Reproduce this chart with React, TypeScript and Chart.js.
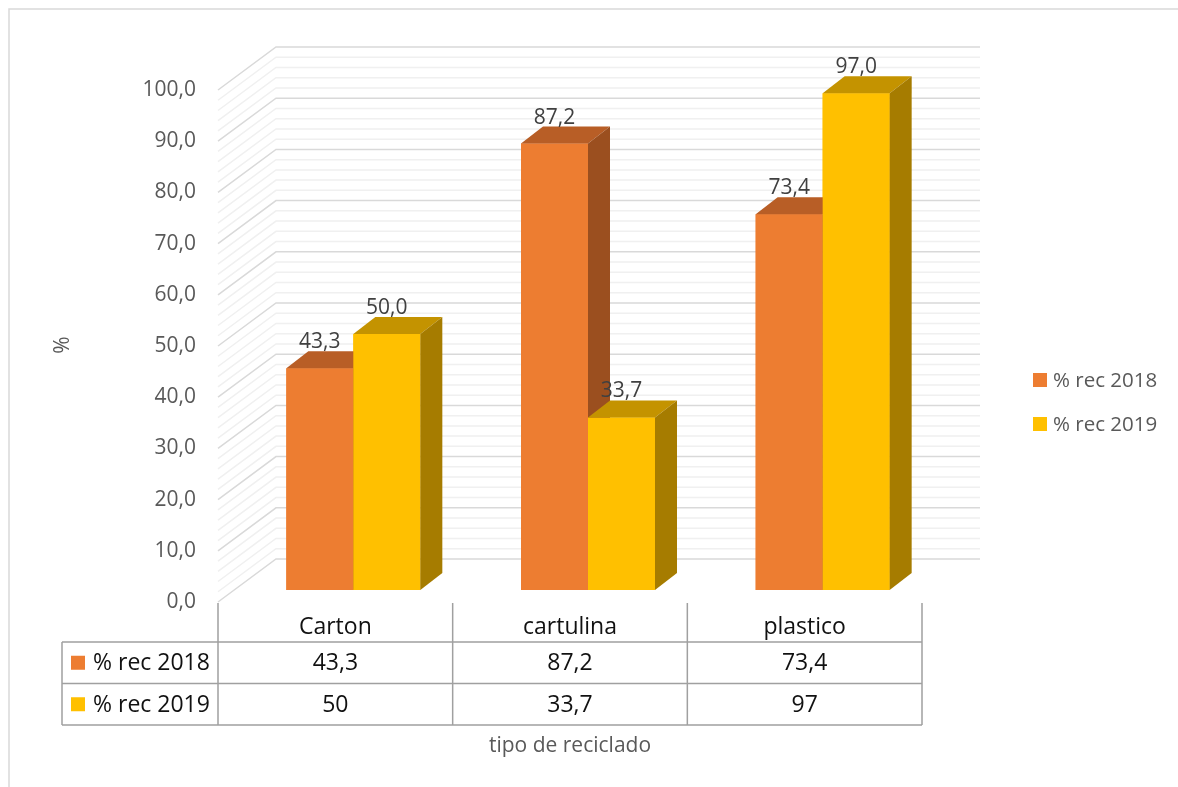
import React, { useEffect, useRef } from 'react';
import { Chart, registerables } from 'chart.js';

Chart.register(...registerables);

// ---- data ----
const categories = ['Carton', 'cartulina', 'plastico'];
const seriesLabels = ['% rec 2018', '% rec 2019'];
const rec2018 = [43.3, 87.2, 73.4];
const rec2019 = [50, 33.7, 97];
const yMin = 0;
const yMax = 100;
const yStep = 10;
const yMinorStep = 2;
const yTitle = '%';
const xTitle = 'tipo de reciclado';

// ---- look ----
const W = 1178;
const H = 787;
const FONT = '"Open Sans", "Noto Sans", sans-serif';
const frontColors = ['#ED7D31', '#FFC000'];
const topColors = ['#B85E26', '#C49300'];
const sideColors = ['#9B4F1F', '#A67C00'];
const GREY_TEXT = '#595959';

// oblique projection: offsets relative to the plane the bars stand in
const FRONT = { dx: -18, dy: 12 };
const BACK = { dx: 40, dy: -31 };
const DEPTH = { dx: 22, dy: -17 };

const fmt1 = (v: number) => v.toFixed(1).replace('.', ',');
const fmtGeneral = (v: number) => String(v).replace('.', ',');

function poly(ctx: CanvasRenderingContext2D, pts: number[][], color: string) {
  ctx.beginPath();
  ctx.moveTo(pts[0][0], pts[0][1]);
  for (let k = 1; k < pts.length; k++) ctx.lineTo(pts[k][0], pts[k][1]);
  ctx.closePath();
  ctx.fillStyle = color;
  ctx.fill();
}

function text(
  ctx: CanvasRenderingContext2D,
  s: string,
  x: number,
  y: number,
  size: number,
  color: string,
  align: CanvasTextAlign = 'center',
  baseline: CanvasTextBaseline = 'middle'
) {
  ctx.font = `${size}px ${FONT}`;
  ctx.fillStyle = color;
  ctx.textAlign = align;
  ctx.textBaseline = baseline;
  ctx.fillText(s, x, y);
}

const bars3d = {
  id: 'bars3d',
  beforeDatasetsDraw(chart: any) {
    const { ctx, chartArea: a, scales } = chart;
    const y = scales.y;
    ctx.save();
    ctx.lineWidth = 1.5;
    for (const major of [false, true]) {
      ctx.strokeStyle = major ? '#D9D9D9' : '#F0F0F0';
      const count = Math.round((yMax - yMin) / yMinorStep);
      for (let k = 0; k <= count; k++) {
        const v = yMin + k * yMinorStep;
        const isMajor = Math.abs(v / yStep - Math.round(v / yStep)) < 1e-9;
        if (isMajor !== major) continue;
        const py = y.getPixelForValue(v);
        ctx.beginPath();
        ctx.moveTo(a.left + FRONT.dx, py + FRONT.dy);
        ctx.lineTo(a.left + BACK.dx, py + BACK.dy);
        ctx.lineTo(a.right + BACK.dx, py + BACK.dy);
        ctx.stroke();
      }
    }
    ctx.restore();
  },
  afterDatasetsDraw(chart: any) {
    const { ctx } = chart;
    const nSets = chart.data.datasets.length;
    ctx.save();
    for (let j = 0; j < categories.length; j++) {
      for (let i = 0; i < nSets; i++) {
        const el = chart.getDatasetMeta(i).data[j];
        const l = el.x - el.width / 2;
        const r = el.x + el.width / 2;
        const t = el.y;
        const b = el.base;
        ctx.fillStyle = frontColors[i];
        ctx.fillRect(l, t, r - l, b - t);
        poly(ctx, [[l, t], [l + DEPTH.dx, t + DEPTH.dy], [r + DEPTH.dx, t + DEPTH.dy], [r, t]], topColors[i]);
        poly(ctx, [[r, t], [r + DEPTH.dx, t + DEPTH.dy], [r + DEPTH.dx, b + DEPTH.dy], [r, b]], sideColors[i]);
      }
    }
    for (let i = 0; i < nSets; i++) {
      const meta = chart.getDatasetMeta(i);
      const values = chart.data.datasets[i].data as number[];
      meta.data.forEach((el: any, j: number) => {
        text(ctx, fmt1(values[j]), el.x, el.y + DEPTH.dy - 3, 21, '#404040', 'center', 'alphabetic');
      });
    }
    ctx.restore();
  },
  afterDraw(chart: any) {
    const { ctx, chartArea: a, scales } = chart;
    const x = scales.x;
    const y = scales.y;
    const series = [rec2018, rec2019];
    ctx.save();

    // outer frame
    ctx.strokeStyle = '#D9D9D9';
    ctx.lineWidth = 1.5;
    ctx.strokeRect(9, 9, W + 20, H + 20);

    // data table under the plot
    const zeroY = y.getPixelForValue(0) + FRONT.dy;
    const half = (x.getPixelForValue(1) - x.getPixelForValue(0)) / 2;
    const bounds = [a.left + FRONT.dx];
    categories.forEach((_, j) => bounds.push(x.getPixelForValue(j) + half + FRONT.dx));
    const rowTop = 642;
    const rowH = 41.5;
    const tableLeft = 62;
    ctx.strokeStyle = '#A0A0A0';
    ctx.lineWidth = 1.5;
    ctx.beginPath();
    bounds.forEach((bx) => {
      ctx.moveTo(bx, zeroY + 1);
      ctx.lineTo(bx, rowTop + rowH * 2);
    });
    ctx.moveTo(tableLeft, rowTop);
    ctx.lineTo(tableLeft, rowTop + rowH * 2);
    for (let r = 0; r <= 2; r++) {
      ctx.moveTo(tableLeft, rowTop + rowH * r);
      ctx.lineTo(bounds[bounds.length - 1], rowTop + rowH * r);
    }
    ctx.stroke();

    categories.forEach((c, j) => {
      const cx = (bounds[j] + bounds[j + 1]) / 2;
      text(ctx, c, cx, (zeroY + rowTop) / 2 + 5, 23, '#111111');
      series.forEach((vals, i) => {
        text(ctx, fmtGeneral(vals[j]), cx, rowTop + rowH * (i + 0.5) + 1, 23, '#111111');
      });
    });
    seriesLabels.forEach((s, i) => {
      const cy = rowTop + rowH * (i + 0.5);
      ctx.fillStyle = frontColors[i];
      ctx.fillRect(71, cy - 7, 14, 14);
      text(ctx, s, 93, cy + 1, 23, '#111111', 'left');
    });

    // axis titles
    text(ctx, xTitle, (bounds[0] + bounds[bounds.length - 1]) / 2, 746, 21, GREY_TEXT);
    ctx.save();
    ctx.translate(63, 345);
    ctx.rotate(-Math.PI / 2);
    text(ctx, yTitle, 0, 0, 21, GREY_TEXT);
    ctx.restore();

    // legend
    seriesLabels.forEach((s, i) => {
      const cy = 380 + i * 44;
      ctx.fillStyle = frontColors[i];
      ctx.fillRect(1033, cy - 7, 14, 14);
      text(ctx, s, 1053, cy + 1, 20.5, GREY_TEXT, 'left');
    });
    ctx.restore();
  },
};

export default function App() {
  const ref = useRef<HTMLCanvasElement>(null);

  useEffect(() => {
    if (!ref.current) return;
    const chart = new Chart(ref.current, {
      type: 'bar',
      data: {
        labels: categories,
        datasets: [
          { label: seriesLabels[0], data: rec2018, backgroundColor: frontColors[0], borderWidth: 0 },
          { label: seriesLabels[1], data: rec2019, backgroundColor: frontColors[1], borderWidth: 0 },
        ],
      },
      options: {
        responsive: false,
        animation: false,
        devicePixelRatio: 1,
        events: [],
        layout: { padding: { left: 10, top: 78, right: W - 940, bottom: H - 590 } },
        datasets: { bar: { categoryPercentage: 0.571, barPercentage: 1 } },
        plugins: { legend: { display: false }, tooltip: { enabled: false } },
        scales: {
          x: { display: false, offset: true },
          y: {
            min: yMin,
            max: yMax,
            afterFit: (s: any) => {
              s.width = 226;
            },
            grid: { display: false, drawTicks: false },
            border: { display: false },
            ticks: {
              stepSize: yStep,
              padding: 40,
              labelOffset: 12,
              color: GREY_TEXT,
              font: { family: FONT, size: 21 },
              callback: (v: any) => fmt1(Number(v)),
            },
          },
        },
      },
      plugins: [bars3d],
    });
    return () => chart.destroy();
  }, []);

  return (
    <div style={{ position: 'fixed', left: 0, top: 0, width: W, height: H, background: '#ffffff' }}>
      <canvas ref={ref} width={W} height={H} style={{ display: 'block', width: W, height: H }} />
    </div>
  );
}
